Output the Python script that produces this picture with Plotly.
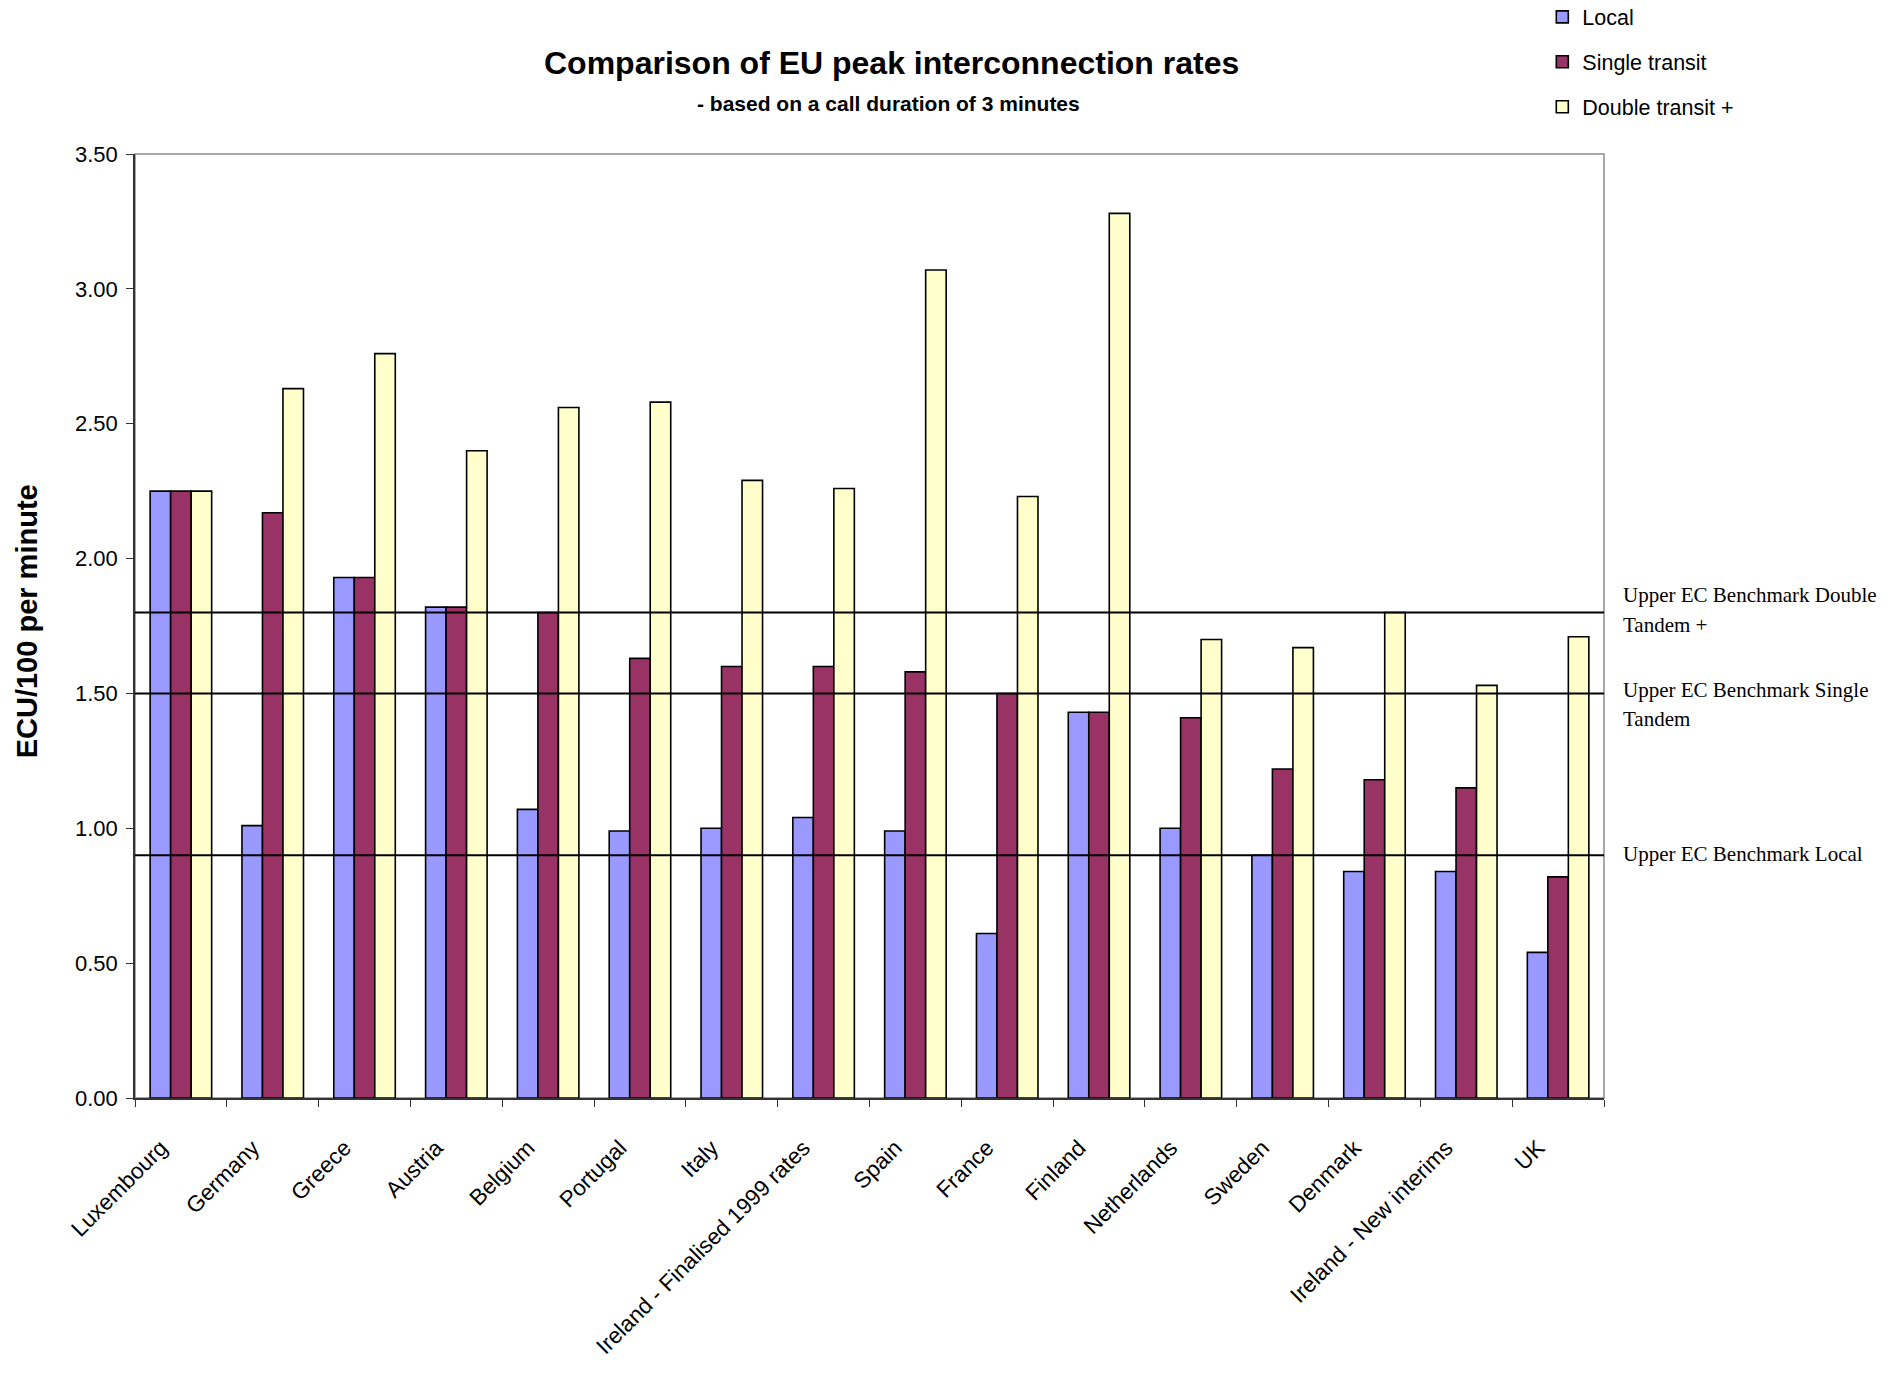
import plotly.graph_objects as go

# Countries shown along the x axis
countries = [
    "Luxembourg", "Germany", "Greece", "Austria", "Belgium", "Portugal", "Italy",
    "Ireland - Finalised 1999 rates", "Spain", "France", "Finland", "Netherlands",
    "Sweden", "Denmark", "Ireland - New interims", "UK",
]

# Peak interconnection rates, ECU/100 per minute
local = [2.25, 1.01, 1.93, 1.82, 1.07, 0.99, 1.00, 1.04, 0.99, 0.61, 1.43, 1.00, 0.90, 0.84, 0.84, 0.54]
single_transit = [2.25, 2.17, 1.93, 1.82, 1.80, 1.63, 1.60, 1.60, 1.58, 1.50, 1.43, 1.41, 1.22, 1.18, 1.15, 0.82]
double_transit = [2.25, 2.63, 2.76, 2.40, 2.56, 2.58, 2.29, 2.26, 3.07, 2.23, 3.28, 1.70, 1.67, 1.80, 1.53, 1.71]

# Upper EC benchmark levels and their labels (one entry per text line)
benchmark_values = [1.80, 1.50, 0.90]
benchmark_lines = [
    ["Upper EC Benchmark Double", "Tandem +"],
    ["Upper EC Benchmark Single", "Tandem"],
    ["Upper EC Benchmark Local"],
]
# vertical offsets (px) of each text line relative to its benchmark line
benchmark_offsets = [
    [18, -12],
    [3, -26],
    [1],
]

series = [
    ("Local", local, "#9999FF"),
    ("Single transit", single_transit, "#993366"),
    ("Double transit +", double_transit, "#FFFFCC"),
]

SANS = "Liberation Sans, Arial, sans-serif"
SERIF = "Liberation Serif, Times New Roman, serif"

fig = go.Figure()
for name, values, color in series:
    fig.add_trace(go.Bar(
        x=countries, y=values, name=name, legendgroup=name,
        marker=dict(color=color, line=dict(color="black", width=1.6)),
    ))

# Benchmark lines across the plot, drawn over the bars
for v in benchmark_values:
    fig.add_shape(type="line", xref="paper", yref="y", x0=0, x1=1, y0=v, y1=v,
                  line=dict(color="black", width=2), layer="above")

# Grey frame around the plot area
fig.add_shape(type="rect", xref="paper", yref="paper", x0=0, x1=1, y0=0, y1=1,
              line=dict(color="#8c8c8c", width=1.5), layer="below")

annotations = [
    dict(text="<b>Comparison of EU peak interconnection rates</b>", xref="paper", yref="paper",
         x=0.515, y=1.0964, xanchor="center", yanchor="middle", showarrow=False,
         font=dict(family=SANS, size=32, color="black")),
    dict(text="<b>- based on a call duration of 3 minutes</b>", xref="paper", yref="paper",
         x=0.513, y=1.054, xanchor="center", yanchor="middle", showarrow=False,
         font=dict(family=SANS, size=21, color="black")),
    dict(text="<b>ECU/100 per minute</b>", xref="paper", yref="paper",
         x=-0.0735, y=0.505, xanchor="center", yanchor="middle", textangle=-90, showarrow=False,
         font=dict(family=SANS, size=29, color="black")),
]
for v, lines, offs in zip(benchmark_values, benchmark_lines, benchmark_offsets):
    for line_text, off in zip(lines, offs):
        annotations.append(dict(
            text=line_text, xref="paper", yref="y", x=1.0116, y=v, yshift=off,
            xanchor="left", yanchor="middle", align="left", showarrow=False,
            font=dict(family=SERIF, size=21, color="black"),
        ))

fig.update_layout(
    width=1901, height=1385,
    margin=dict(l=135, r=297, t=154, b=287, autoexpand=False),
    paper_bgcolor="white", plot_bgcolor="white",
    barmode="group", bargap=0.33, bargroupgap=0,
    font=dict(family=SANS, color="black"),
    showlegend=True,
    legend=dict(
        x=0.958, y=1.167, xanchor="left", yanchor="top",
        font=dict(family=SANS, size=21.5, color="black"),
        traceorder="grouped", tracegroupgap=14, bgcolor="rgba(0,0,0,0)",
    ),
    annotations=annotations,
)

fig.update_xaxes(
    showgrid=False, showline=True, linecolor="#333333", linewidth=1.5,
    ticks="outside", tickson="boundaries", ticklen=7, tickcolor="#333333",
    tickangle=-45, ticklabelstandoff=26, ticklabelshift=-20,
    tickfont=dict(family=SANS, size=22.5, color="black"),
)
fig.update_yaxes(
    range=[0, 3.5], dtick=0.5, tickformat=".2f",
    showgrid=False, zeroline=False, showline=True, linecolor="#333333", linewidth=1.5,
    ticks="outside", ticklen=7, tickcolor="#333333", ticklabelstandoff=4,
    tickfont=dict(family=SANS, size=22, color="black"),
)

fig.write_html("out.html")
